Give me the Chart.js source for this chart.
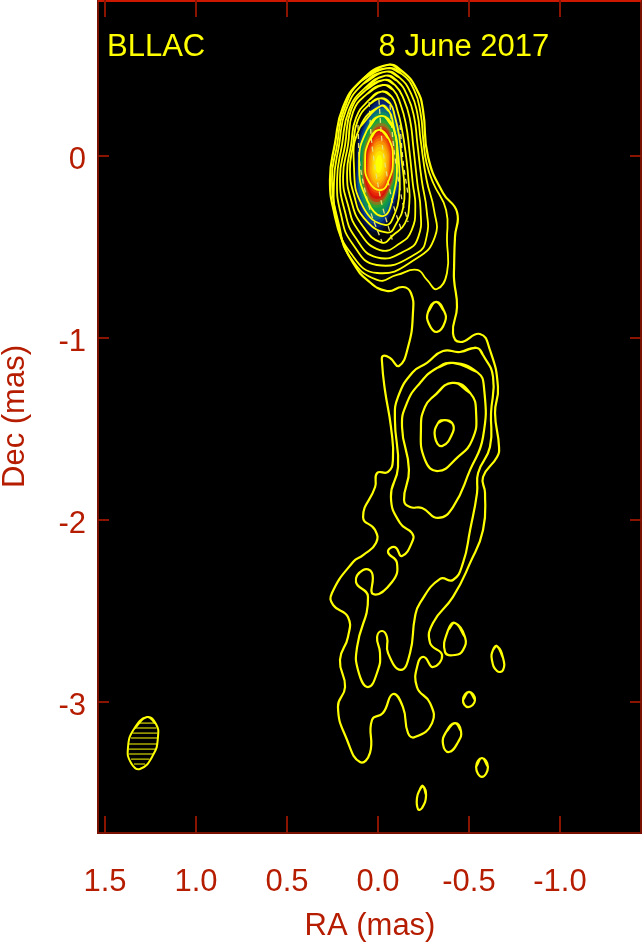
<!DOCTYPE html>
<html>
<head>
<meta charset="utf-8">
<title>BLLAC 8 June 2017</title>
<script src="https://cdn.jsdelivr.net/npm/chart.js@4/dist/chart.umd.min.js"></script>
<style>
  html, body { margin: 0; padding: 0; background: #fff; }
  #wrap { width: 642px; height: 945px; }
</style>
</head>
<body>
<div id="wrap"><canvas id="map" width="642" height="945"></canvas></div>
<script>
// axis ticks (mas)
var raTicks = [1.5, 1.0, 0.5, 0.0, -0.5, -1.0];
var raTickLabels = ['1.5', '1.0', '0.5', '0.0', '-0.5', '-1.0'];
var decTicks = [0, -1, -2, -3];
var decTickLabels = ['0', '-1', '-2', '-3'];

// text inside the map
var mapLabels = ['BLLAC', '8 June 2017'];
var mapLabelRa = [1.489, -0.003];
var mapLabelDec = [0.55, 0.55];

// contours as [ra, dec] in mas, outermost first
var contourJetOuter = [
  [-.049,.500],[-.137,.462],[-.214,.363],[-.247,.253],[-.275,-.005],[-.357,-.203],[-.434,-.308],[-.423,-.445],
  [-.418,-.610],[-.418,-.681],[-.434,-.830],[-.412,-.973],[-.451,-1.022],[-.560,-.978],[-.615,-1.066],[-.659,-1.269],
  [-.643,-1.412],[-.665,-1.599],[-.654,-1.654],[-.577,-1.764],[-.588,-1.852],[-.577,-2.055],[-.506,-2.236],[-.412,-2.423],
  [-.302,-2.566],[-.286,-2.676],[-.352,-2.742],[-.302,-2.808],[-.253,-2.753],[-.220,-2.786],[-.214,-2.918],[-.286,-3.006],
  [-.297,-3.116],[-.203,-3.193],[-.165,-3.171],[-.137,-3.028],[-.082,-2.956],[-.027,-3.061],[.033,-3.099],[.044,-3.280],
  [.099,-3.330],[.170,-3.209],[.220,-3.028],[.181,-2.918],[.209,-2.769],[.165,-2.643],[.165,-2.533],[.247,-2.467],
  [.253,-2.401],[.137,-2.231],[.082,-2.193],[.011,-2.127],[.016,-2.055],[.082,-1.984],[.016,-1.819],[.005,-1.742],
  [-.055,-1.736],[-.082,-1.670],[-.071,-1.489],[-.038,-1.286],[-.022,-1.132],[-.027,-1.099],[-.066,-1.110],[-.115,-1.154],
  [-.165,-1.050],[-.192,-.863],[-.181,-.753],[-.137,-.720],[-.049,-.742],[.060,-.681],[.137,-.588],[.192,-.478],
  [.236,-.335],[.264,-.132],[.236,.071],[.192,.269],[.099,.407]
];
var contourCore2 = [[-.048,.482],[-.130,.451],[-.198,.363],[-.234,.234],[-.249,.088],[-.267,-.040],[-.304,-.150],[-.374,-.297],[-.379,-.462],[-.379,-.643],[-.324,-.731],[-.269,-.681],[-.214,-.626],[-.104,-.654],[.005,-.681],[.154,-.555],[.214,-.379],[.253,-.132],[.225,.060],[.187,.253],[.088,.418]];
var contourCore3 = [[-.044,.463],[-.117,.432],[-.181,.344],[-.216,.234],[-.234,.088],[-.267,-.132],[-.308,-.297],[-.313,-.443],[-.213,-.562],[.005,-.643],[.154,-.528],[.225,-.352],[.242,-.143],[.214,.060],[.176,.253],[.082,.396]];
var contourCore4 = [[-.040,.441],[-.106,.412],[-.163,.326],[-.198,.216],[-.216,.070],[-.240,-.132],[-.267,-.297],[-.267,-.443],[-.213,-.535],[.007,-.599],[.143,-.478],[.203,-.324],[.225,-.132],[.198,.060],[.159,.253],[.071,.374]];
var contourCore5 = [[-.033,.418],[-.093,.390],[-.143,.308],[-.176,.198],[-.194,.051],[-.216,-.150],[-.234,-.297],[-.222,-.443],[-.158,-.517],[.007,-.557],[.126,-.445],[.181,-.308],[.209,-.121],[.181,.060],[.148,.253],[.066,.363]];
var contourCore6 = [[-.026,.390],[-.084,.363],[-.125,.280],[-.154,.170],[-.172,.033],[-.191,-.150],[-.205,-.278],[-.185,-.407],[-.121,-.480],[-.011,-.517],[.110,-.407],[.165,-.269],[.192,-.115],[.165,.060],[.137,.242],[.060,.341]];
var contourCore7 = [[-.020,.354],[-.075,.326],[-.106,.253],[-.132,.143],[-.152,.015],[-.169,-.150],[-.172,-.260],[-.148,-.370],[-.084,-.434],[-.020,-.476],[.088,-.379],[.148,-.242],[.170,-.093],[.148,.060],[.121,.209],[.049,.308]];
var contourCore8 = [[-.015,.317],[-.066,.289],[-.093,.216],[-.117,.106],[-.130,-.022],[-.145,-.169],[-.139,-.278],[-.106,-.361],[-.051,-.421],[.077,-.341],[.132,-.214],[.154,-.077],[.137,.060],[.110,.198],[.044,.286]];
var contourCore9 = [[-.015,.275],[-.062,.244],[-.084,.170],[-.106,.051],[-.117,-.077],[-.117,-.205],[-.093,-.315],[-.038,-.379],[.082,-.280],[.132,-.060],[.099,.159]];
var contourCore10 = [[-.016,.220],[-.082,.159],[-.104,-.022],[-.082,-.225],[-.027,-.330],[.060,-.242],[.104,-.038],[.060,.143]];
var contourCore11 = [[-.005,.143],[-.060,.093],[-.082,-.022],[-.060,-.132],[-.016,-.187],[.049,-.143],[.071,-.038],[.049,.082]];
var contourJet2 = [
  [-.544,-1.055],[-.451,-1.077],[-.357,-1.072],[-.269,-1.137],[-.192,-1.187],[-.110,-1.324],[-.093,-1.451],[-.110,-1.709],
  [-.071,-1.874],[-.121,-2.017],[-.187,-2.072],[-.192,-2.110],[-.132,-2.198],[-.093,-2.149],[-.055,-2.176],[-.104,-2.236],
  [-.077,-2.341],[.027,-2.407],[.033,-2.291],[.082,-2.275],[.121,-2.341],[.055,-2.423],[.115,-2.698],[.110,-2.824],
  [.055,-2.918],[0,-2.824],[-.011,-2.731],[.005,-2.643],[-.022,-2.610],[-.049,-2.643],[-.055,-2.731],[-.126,-2.824],
  [-.176,-2.731],[-.203,-2.533],[-.231,-2.456],[-.341,-2.324],[-.412,-2.330],[-.467,-2.236],[-.506,-2.055],[-.544,-1.852],
  [-.550,-1.742],[-.615,-1.599],[-.621,-1.412],[-.632,-1.214],[-.577,-1.094]
];
var contourJet3 = [[-.412,-1.137],[-.324,-1.165],[-.231,-1.247],[-.159,-1.357],[-.132,-1.489],[-.170,-1.725],[-.143,-1.890],[-.176,-1.929],[-.242,-1.934],[-.330,-1.989],[-.412,-1.929],[-.506,-1.725],[-.577,-1.544],[-.582,-1.269],[-.544,-1.187]];
var contourJet4 = [[-.407,-1.247],[-.302,-1.324],[-.258,-1.379],[-.236,-1.489],[-.258,-1.670],[-.330,-1.731],[-.434,-1.659],[-.517,-1.561],[-.539,-1.412],[-.506,-1.302]];
var contourJet5 = [[-.368,-1.451],[-.407,-1.467],[-.412,-1.517],[-.352,-1.594],[-.313,-1.544],[-.330,-1.467]];
var islandA = [[-.319,-.802],[-.363,-.852],[-.368,-.912],[-.324,-.967],[-.280,-.923],[-.275,-.857]];
var islandB = [[-.423,-2.566],[-.478,-2.643],[-.467,-2.715],[-.423,-2.742],[-.368,-2.725],[-.385,-2.605]];
var islandC = [[-.654,-2.693],[-.687,-2.758],[-.687,-2.824],[-.654,-2.830],[-.626,-2.769],[-.632,-2.714]];
var islandD = [[-.500,-2.945],[-.533,-2.989],[-.495,-3.028],[-.467,-2.989]];
var islandE = [[-.423,-3.116],[-.456,-3.160],[-.440,-3.220],[-.390,-3.275],[-.357,-3.231],[-.374,-3.165]];
var islandF = [[-.571,-3.308],[-.604,-3.357],[-.571,-3.412],[-.539,-3.357]];
var islandG = [[-.247,-3.462],[-.264,-3.512],[-.242,-3.583],[-.220,-3.589],[-.214,-3.528],[-.231,-3.479]];

var coreContours = [
  contourCore2, contourCore3, contourCore4, contourCore5, contourCore6, contourCore7,
  contourCore8, contourCore9, contourCore10, contourCore11
];
var jetContours = [
  contourJetOuter, contourJet2, contourJet3, contourJet4, contourJet5,
  islandA, islandB, islandC, islandD, islandE, islandF, islandG
];

// polarisation direction lines over the core
var evpaLines = [
  [[.110,.170],[.099,-.049],[.044,-.297],[-.022,-.473]],
  [[.049,.297],[.033,.060],[-.016,-.242],[-.082,-.473]],
  [[-.005,.308],[-.027,.033],[-.077,-.242],[-.132,-.418]],
  [[-.066,.280],[-.088,.033],[-.132,-.242],[-.165,-.363]],
  [[-.121,.170],[-.137,-.022],[-.165,-.214]]
];

// colour image of the core: half widths per level, outer level first
var coreRa = -0.005;
var coreDec = -0.044;
var coreHalfRa = [.132,.126,.121,.115,.110,.104,.099,.093,.088,.082,.077,.071,.066,.060,.055,.047,.038,.030,.019];
var coreHalfDec = [.396,.374,.352,.330,.308,.286,.264,.242,.225,.209,.192,.176,.159,.143,.126,.110,.093,.071,.049];
var coreColors = ['#030818','#04103c','#062070','#084090','#0a6a80','#0c8a60','#109a48','#30a030','#808020','#c04010','#d81408','#e82808','#f04c06','#f47004','#f89404','#fbb402','#fdcc00','#fee400','#ffff00'];
// unit outline of one level
var coreOutlineRa = [0, .71, 1, .71, 0, -.71, -1, -.71];
var coreOutlineDec = [1, .71, 0, -.71, -1, -.71, 0, .71];
var coreLean = 0.06;

// beam
var beamOutline = [[1.269,-3.083],[1.220,-3.121],[1.209,-3.193],[1.236,-3.292],[1.308,-3.368],[1.357,-3.335],[1.374,-3.253],[1.341,-3.149]];
var hatchDec = [-3.116,-3.143,-3.171,-3.198,-3.231,-3.259,-3.286,-3.314,-3.341];
var hatchRaLeft = [1.313,1.341,1.349,1.357,1.368,1.371,1.368,1.357,1.341];
var hatchRaRight = [1.225,1.217,1.212,1.209,1.214,1.223,1.234,1.256,1.280];

var YELLOW = '#ffff00';
var LABEL_RED = '#b51c00';
var FONT = '"Liberation Sans", Arial, sans-serif';

function toPoints(list) {
  return list.map(function(p) { return { x: p[0], y: p[1] }; });
}

// wrap the ends round so the spline has no kink where the loop closes
function closedLoop(list) {
  var n = list.length;
  return toPoints([list[n - 1]].concat(list, [list[0], list[1]]));
}

function coreLevel(i) {
  var pts = coreOutlineRa.map(function(u, k) {
    var v = coreOutlineDec[k];
    return [coreRa + u * coreHalfRa[i] - v * coreHalfDec[i] * coreLean, coreDec + v * coreHalfDec[i]];
  });
  return closedLoop(pts);
}

var datasets = [];

jetContours.forEach(function(c) {
  datasets.push({ data: closedLoop(c), showLine: true, borderColor: YELLOW, borderWidth: 2.2, pointRadius: 0, tension: 0.5, fill: false, order: 0 });
});

coreContours.forEach(function(c) {
  datasets.push({ data: closedLoop(c), showLine: true, borderColor: YELLOW, borderWidth: 1.8, pointRadius: 0, tension: 0.5, fill: false, order: 0 });
});

evpaLines.forEach(function(l) {
  datasets.push({ data: toPoints(l), showLine: true, borderColor: '#e8e070', borderWidth: 1.3, borderDash: [5, 4], pointRadius: 0, tension: 0.3, fill: false, order: 1 });
});

coreHalfRa.forEach(function(r, i) {
  datasets.push({ data: coreLevel(i), showLine: true, borderWidth: 0, borderColor: coreColors[i], backgroundColor: coreColors[i], pointRadius: 0, tension: 0.5, fill: 'shape', order: 100 - i });
});

datasets.push({ data: closedLoop(beamOutline), showLine: true, borderColor: YELLOW, borderWidth: 2, pointRadius: 0, tension: 0.5, fill: false, order: 0 });
hatchDec.forEach(function(d, i) {
  datasets.push({ data: [{ x: hatchRaLeft[i], y: d }, { x: hatchRaRight[i], y: d }], showLine: true, borderColor: YELLOW, borderWidth: 1, pointRadius: 0, fill: false, order: 0 });
});

// black map area, box and inward ticks
var framePlugin = {
  id: 'frame',
  beforeDatasetsDraw: function(chart) {
    var a = chart.chartArea, ctx = chart.ctx;
    ctx.save();
    ctx.fillStyle = '#000';
    ctx.fillRect(a.left, a.top, a.right - a.left, a.bottom - a.top);
    ctx.restore();
  },
  afterDatasetsDraw: function(chart) {
    var a = chart.chartArea, ctx = chart.ctx;
    var xs = chart.scales.x, ys = chart.scales.y;
    var right = a.right - 1;
    ctx.save();
    ctx.strokeStyle = '#7a1000';
    ctx.lineWidth = 2;
    ctx.beginPath();
    ctx.moveTo(a.left, a.top); ctx.lineTo(a.left, a.bottom); ctx.lineTo(right, a.bottom); ctx.lineTo(right, a.top);
    ctx.stroke();
    ctx.strokeStyle = '#cc1800';
    ctx.beginPath();
    ctx.moveTo(a.left, a.top + 1); ctx.lineTo(right, a.top + 1);
    ctx.stroke();
    ctx.strokeStyle = '#8a1400';
    raTicks.forEach(function(v) {
      var px = Math.round(xs.getPixelForValue(v));
      ctx.beginPath();
      ctx.moveTo(px, a.top); ctx.lineTo(px, a.top + 17);
      ctx.moveTo(px, a.bottom); ctx.lineTo(px, a.bottom - 17);
      ctx.stroke();
    });
    decTicks.forEach(function(v) {
      var py = Math.round(ys.getPixelForValue(v));
      ctx.beginPath();
      ctx.moveTo(a.left, py); ctx.lineTo(a.left + 11, py);
      ctx.moveTo(right, py); ctx.lineTo(right - 11, py);
      ctx.stroke();
    });
    ctx.fillStyle = YELLOW;
    ctx.font = '31px ' + FONT;
    ctx.textBaseline = 'alphabetic';
    mapLabels.forEach(function(t, i) {
      ctx.fillText(t, xs.getPixelForValue(mapLabelRa[i]), ys.getPixelForValue(mapLabelDec[i]));
    });
    ctx.restore();
  }
};

new Chart(document.getElementById('map'), {
  type: 'scatter',
  data: { datasets: datasets },
  plugins: [framePlugin],
  options: {
    responsive: false,
    animation: false,
    layout: { autoPadding: false, padding: 0 },
    plugins: { legend: { display: false }, tooltip: { enabled: false }, title: { display: false } },
    elements: { line: { capBezierPoints: false } },
    scales: {
      x: {
        type: 'linear',
        reverse: true,
        min: -1.4505,
        max: 1.5385,
        afterBuildTicks: function(s) { s.ticks = raTicks.map(function(v) { return { value: v }; }); },
        afterFit: function(s) { s.height = 112; s.paddingLeft = 0; s.paddingRight = 0; s.paddingTop = 0; s.paddingBottom = 0; },
        grid: { display: false },
        border: { display: false },
        ticks: {
          color: LABEL_RED,
          font: { family: FONT, size: 31 },
          padding: 23,
          maxRotation: 0,
          autoSkip: false,
          callback: function(v, i) { return raTickLabels[i]; }
        },
        title: { display: true, text: 'RA (mas)', color: LABEL_RED, font: { family: FONT, size: 31 }, padding: { top: 0, bottom: 0 } }
      },
      y: {
        type: 'linear',
        min: -3.72,
        max: 0.857,
        afterBuildTicks: function(s) { s.ticks = decTicks.map(function(v) { return { value: v }; }); },
        afterFit: function(s) { s.width = 98; s.paddingTop = 0; s.paddingBottom = 0; s.paddingLeft = 0; s.paddingRight = 0; },
        grid: { display: false },
        border: { display: false },
        ticks: {
          color: LABEL_RED,
          font: { family: FONT, size: 31 },
          padding: 4,
          labelOffset: 4,
          autoSkip: false,
          callback: function(v, i) { return decTickLabels[i]; }
        },
        title: { display: true, text: 'Dec (mas)', color: LABEL_RED, font: { family: FONT, size: 31 }, padding: { top: -3, bottom: 0 } }
      }
    }
  }
});
</script>
</body>
</html>
